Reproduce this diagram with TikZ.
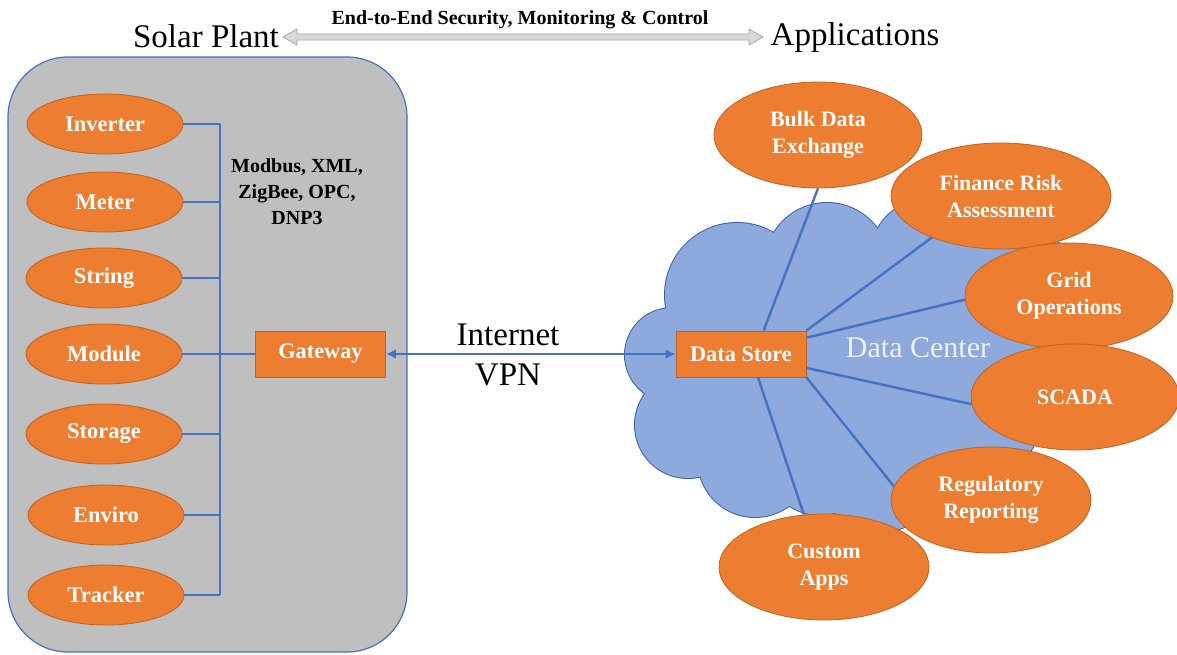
\documentclass[tikz,border=0pt]{standalone}
\usepackage{fontspec}
\setmainfont{Liberation Serif}
\usetikzlibrary{shapes.geometric,arrows.meta}
\definecolor{orangefill}{HTML}{ED7D31}
\definecolor{orangeedge}{HTML}{C0621F}
\definecolor{blueline}{HTML}{4472C4}
\definecolor{panelgray}{HTML}{BFBFBF}
\definecolor{cloudfill}{HTML}{8EA9DB}
\definecolor{cloudedge}{HTML}{3A62A8}
\definecolor{arrowfill}{HTML}{D9D9D9}
\definecolor{arrowedge}{HTML}{A6A6A6}
\definecolor{dctext}{HTML}{EEF2FA}
\tikzset{
  dev/.style={ellipse, fill=orangefill, draw=orangeedge, line width=0.8pt,
    minimum width=156pt, minimum height=60pt, inner sep=0pt, text=white,
    font=\bfseries\fontsize{22.5}{27}\selectfont},
  app/.style={dev, minimum width=208pt, minimum height=106pt, align=center,
    font=\bfseries\fontsize{22}{27}\selectfont},
  obox/.style={rectangle, fill=orangefill, draw=orangeedge, line width=0.8pt,
    minimum width=130pt, minimum height=46pt, inner sep=0pt, text=white,
    font=\bfseries\fontsize{22.3}{26}\selectfont},
  link/.style={draw=blueline, line width=2.8pt},
  spoke/.style={draw=blueline, line width=2.4pt},
  big/.style={font=\fontsize{33}{38}\selectfont, inner sep=0pt},
}
\begin{document}
\begin{tikzpicture}[x=1pt,y=-1pt]
\useasboundingbox (0,0) rectangle (1177,654);
% header
\node[big, anchor=base] (sp) at (206,47) {Solar Plant};
\node[big, anchor=base] (apps) at (855,45) {Applications};
\node[anchor=base, inner sep=0pt, font=\bfseries\fontsize{20}{24}\selectfont] (title) at (520,24) {End-to-End Security, Monitoring \& Control};
\draw[draw=arrowedge, fill=arrowfill, line width=0.8pt]
  (283,37) -- (297,29) -- (297,34) -- (749,34) -- (749,29) -- (763,37)
  -- (749,45) -- (749,40) -- (297,40) -- (297,45) -- cycle;
% panel
\draw[fill=panelgray, draw=blueline, line width=1.2pt, rounded corners=60pt] (8,57) rectangle (407,652);
% cloud
\begin{scope}
\foreach \cx/\cy/\r in {672/355/47, 688/425/53, 755/460/57, 737/295/72, 827/265/62, 930/258/60, 1015/300/72, 1045/360/60, 985/420/55, 880/470/62, 820/460/55}
  \draw[cloudedge, line width=2pt] (\cx,\cy) circle (\r);
\foreach \cx/\cy/\r in {672/355/47, 688/425/53, 755/460/57, 737/295/72, 827/265/62, 930/258/60, 1015/300/72, 1045/360/60, 985/420/55, 880/470/62, 820/460/55}
  \fill[cloudfill] (\cx,\cy) circle (\r);
\fill[cloudfill] (870,370) ellipse (190 and 125);
\end{scope}
\node[font=\fontsize{30}{34}\selectfont, text=dctext, inner sep=0pt] (dc) at (918,348) {Data Center};
% devices
\node[dev] (inv) at (105,124) {Inverter};
\node[dev] (met) at (105,202) {Meter};
\node[dev] (str) at (104,278) {String};
\node[dev] (mod) at (104,354) {Module};
\node[dev] (sto) at (104,434) {Storage};
\node[dev] (env) at (106,515) {Enviro};
\node[dev] (trk) at (106,595) {Tracker};
\node[obox] (gw) at (320.5,354) {Gateway};
\node[inner sep=0pt, align=center, font=\bfseries\fontsize{20}{26}\selectfont] (proto) at (297,192) {Modbus, XML,\\ZigBee, OPC,\\DNP3};
\coordinate (bus) at (220,354);
\foreach \n in {inv,met,str,sto,env,trk}
  \draw[link] (\n.east) -- (\n.east -| bus);
\draw[link] (inv.east -| bus) -- (trk.east -| bus);
\draw[link] (mod.east) -- (gw.west);
% apps
\node[app] (bulk) at (818,135) {Bulk Data\\Exchange};
\node[app, minimum width=220pt] (fin) at (1001,196) {Finance Risk\\Assessment};
\node[app] (grid) at (1069,296) {Grid\\Operations};
\node[app] (scada) at (1075,397) {SCADA};
\node[app, minimum width=200pt] (reg) at (991,500) {Regulatory\\Reporting};
\node[app, minimum width=210pt] (cust) at (824,567) {Custom\\Apps};
\node[obox] (ds) at (741,354) {Data Store};
% internet link
\draw[link, {Latex[length=10pt,width=10pt]}-{Latex[length=10pt,width=10pt]}] (gw.east) -- (ds.west);
\node[big, anchor=base] (inet) at (508,345) {Internet};
\node[big, anchor=base] (vpn) at (508,385) {VPN};
% spokes
\draw[spoke] (ds.46) -- (bulk.south);
\draw[spoke] (ds.north east) -- (fin.211);
\draw[spoke] (ds.14) -- (grid.182);
\draw[spoke] (ds.-12) -- (scada.184);
\draw[spoke] (ds.south east) -- (reg.172);
\draw[spoke] (ds.-54) -- (cust.111);
\end{tikzpicture}
\end{document}
